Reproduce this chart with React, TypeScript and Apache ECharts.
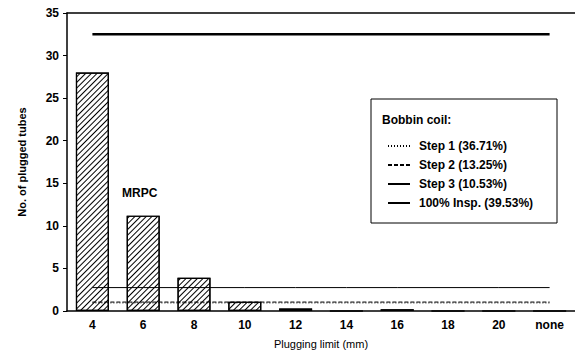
import React, { useEffect, useRef } from "react";
import * as echarts from "echarts";

const categories = ["4", "6", "8", "10", "12", "14", "16", "18", "20", "none"];
const mrpcValues = [28, 11.2, 3.9, 1.1, 0.3, 0, 0.2, 0, 0, 0];
const step1Values = [0.95, 0.95, 0.95, 0.95, 0.95, 0.95, 0.95, 0.95, 0.95, 0.95];
const step2Values = [1.05, 1.05, 1.05, 1.05, 1.05, 1.05, 1.05, 1.05, 1.05, 1.05];
const step3Values = [2.75, 2.75, 2.75, 2.75, 2.75, 2.75, 2.75, 2.75, 2.75, 2.75];
const insp100Values = [32.5, 32.5, 32.5, 32.5, 32.5, 32.5, 32.5, 32.5, 32.5, 32.5];
const seriesNames = ["Step 1 (36.71%)", "Step 2 (13.25%)", "Step 3 (10.53%)", "100% Insp. (39.53%)"];

const FONT = "Liberation Sans";

export default function App() {
  const ref = useRef<HTMLDivElement>(null);
  useEffect(() => {
    document.body.style.margin = "0";
    if (!ref.current) return;
    const chart = echarts.init(ref.current, null, { renderer: "svg" });
    const lineSeries = (name: string, data: number[], type: any, width: number) => ({
      name,
      type: "line",
      data,
      symbol: "none",
      z: 5,
      lineStyle: { color: "#000", width, type },
      itemStyle: { color: "#000" },
    });
    chart.setOption({
      animation: false,
      backgroundColor: "#fff",
      textStyle: { fontFamily: FONT },
      grid: { left: 67, top: 13, width: 511, height: 298, containLabel: false },
      xAxis: [
        {
          type: "category",
          data: categories,
          boundaryGap: true,
          axisLine: { lineStyle: { color: "#000", width: 1.5 } },
          axisTick: { inside: true, length: 4, alignWithLabel: true, lineStyle: { color: "#000" } },
          axisLabel: { color: "#000", fontSize: 12, fontWeight: "bold", margin: 8, fontFamily: FONT },
          name: "Plugging limit (mm)",
          nameLocation: "middle",
          nameGap: 27,
          nameTextStyle: { color: "#000", fontSize: 11, fontFamily: FONT },
        },
        {
          type: "category",
          data: categories,
          position: "top",
          axisLine: { show: true, lineStyle: { color: "#000", width: 1.5 } },
          axisTick: { show: false },
          axisLabel: { show: false },
        },
      ],
      yAxis: {
        type: "value",
        min: 0,
        max: 35,
        interval: 5,
        axisLine: { show: true, lineStyle: { color: "#000", width: 1.5 } },
        axisTick: { show: true, length: 4, lineStyle: { color: "#000" } },
        splitLine: { show: false },
        axisLabel: { color: "#000", fontSize: 12, fontWeight: "bold", margin: 8, fontFamily: FONT },
        name: "No. of plugged tubes",
        nameLocation: "middle",
        nameGap: 40,
        nameRotate: 90,
        nameTextStyle: { color: "#000", fontSize: 11, fontWeight: "bold", fontFamily: FONT },
      },
      legend: {
        orient: "vertical",
        left: 382,
        top: 135,
        itemWidth: 22,
        itemHeight: 14,
        itemGap: 7,
        data: seriesNames,
        itemStyle: { opacity: 0 },
        textStyle: { color: "#000", fontSize: 12, fontWeight: "bold", fontFamily: FONT, padding: [0, 0, 0, 4] },
        selectedMode: false,
      },
      series: [
        {
          name: "MRPC",
          type: "bar",
          data: mrpcValues,
          barWidth: "65%",
          z: 2,
          itemStyle: {
            color: "#fff",
            borderColor: "#000",
            borderWidth: 1.2,
            decal: {
              symbol: "rect",
              symbolSize: 1,
              color: "#000",
              backgroundColor: "#fff",
              dashArrayX: [1, 0],
              dashArrayY: [1, 3],
              rotation: -Math.PI / 4,
            },
          },
        },
        lineSeries(seriesNames[0], step1Values, [1, 2], 1),
        lineSeries(seriesNames[1], step2Values, [4, 2], 1),
        lineSeries(seriesNames[2], step3Values, "solid", 1),
        lineSeries(seriesNames[3], insp100Values, "solid", 2.5),
      ],
      graphic: [
        {
          type: "rect",
          shape: { x: 371, y: 99, width: 186, height: 124 },
          style: { fill: "none", stroke: "#000", lineWidth: 1 },
          z: 10,
        },
        {
          type: "text",
          x: 382,
          y: 120,
          style: { text: "Bobbin coil:", fill: "#000", fontSize: 12, fontWeight: "bold", fontFamily: FONT, verticalAlign: "middle" },
          z: 10,
        },
        {
          type: "text",
          x: 122,
          y: 193,
          style: { text: "MRPC", fill: "#000", fontSize: 12, fontWeight: "bold", fontFamily: FONT, verticalAlign: "middle" },
          z: 10,
        },
      ],
    });
    return () => chart.dispose();
  }, []);
  return <div ref={ref} style={{ width: 575, height: 359 }} />;
}
